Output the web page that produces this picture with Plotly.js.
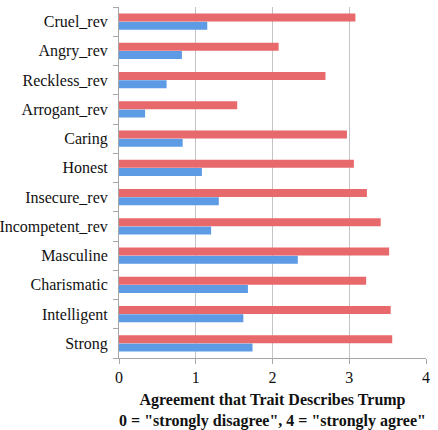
<!DOCTYPE html>
<html>
<head>
<meta charset="utf-8">
<script src="https://cdn.plot.ly/plotly-3.0.1.min.js"></script>
<style>
  html, body { margin: 0; padding: 0; background: #ffffff; }
  #chart { width: 438px; height: 430px; }
</style>
</head>
<body>
<div id="chart"></div>
<script>
// Traits, listed bottom to top as they appear on the category axis
const traits = [
  "Strong", "Intelligent", "Charismatic", "Masculine", "Incompetent_rev",
  "Insecure_rev", "Honest", "Caring", "Arrogant_rev", "Reckless_rev",
  "Angry_rev", "Cruel_rev"
];

// Mean agreement (0 = strongly disagree, 4 = strongly agree)
const redValues  = [3.56, 3.54, 3.22, 3.52, 3.41, 3.23, 3.06, 2.97, 1.54, 2.69, 2.08, 3.08];
const blueValues = [1.74, 1.62, 1.68, 2.33, 1.20, 1.30, 1.08, 0.83, 0.34, 0.62, 0.82, 1.15];

const xTicks = [0, 1, 2, 3, 4];

const serif = "Liberation Serif, Times New Roman, serif";

const data = [
  {
    type: "bar",
    orientation: "h",
    y: traits,
    x: blueValues,
    marker: { color: "#5d9be4", line: { width: 0 } },
    hoverinfo: "x+y"
  },
  {
    type: "bar",
    orientation: "h",
    y: traits,
    x: redValues,
    marker: { color: "#e8696b", line: { width: 0 } },
    hoverinfo: "x+y"
  }
];

const layout = {
  width: 438,
  height: 430,
  margin: { l: 119, r: 12, t: 7, b: 72 },
  paper_bgcolor: "#ffffff",
  plot_bgcolor: "#ffffff",
  showlegend: false,
  barmode: "group",
  bargap: 0.43,
  bargroupgap: 0.05,
  xaxis: {
    range: [0, 4],
    tickvals: xTicks,
    ticktext: xTicks.map(String),
    showgrid: true,
    gridcolor: "#c4c4c4",
    gridwidth: 1,
    zeroline: false,
    showline: true,
    linecolor: "#a6a6a6",
    linewidth: 1,
    ticks: "outside",
    ticklen: 5,
    tickcolor: "#a6a6a6",
    tickfont: { family: serif, size: 16, color: "#111111" },
    title: {
      text: "<b>Agreement that Trait Describes Trump<br>0 = \"strongly disagree\", 4 = \"strongly agree\"</b>",
      font: { family: serif, size: 16, color: "#111111" },
      standoff: 13
    },
    fixedrange: true
  },
  yaxis: {
    type: "category",
    range: [-0.5, 11.5],
    showgrid: false,
    zeroline: false,
    showline: true,
    linecolor: "#a6a6a6",
    linewidth: 1,
    ticks: "outside",
    tickson: "boundaries",
    ticklen: 5,
    tickcolor: "#a6a6a6",
    tickfont: { family: serif, size: 16, color: "#111111" },
    ticklabelstandoff: 7,
    fixedrange: true
  }
};

Plotly.newPlot("chart", data, layout, { displayModeBar: false, staticPlot: true });
</script>
</body>
</html>
